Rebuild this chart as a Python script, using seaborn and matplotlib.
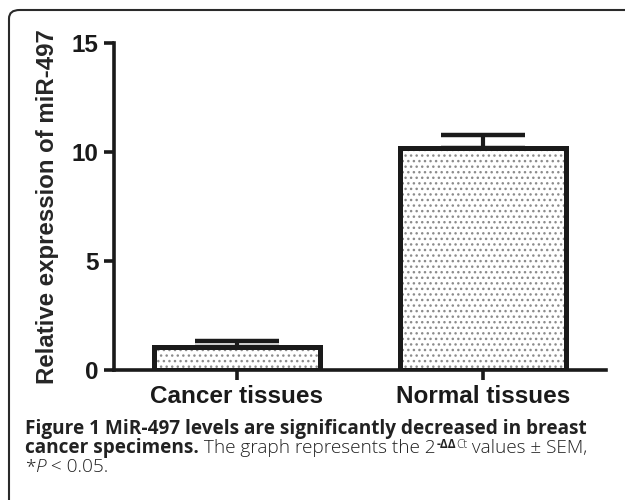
import matplotlib
matplotlib.use("Agg")
import matplotlib.pyplot as plt
from matplotlib.patches import FancyBboxPatch
import seaborn as sns
import pandas as pd

# valores (2^-ddCt, media y SEM)
grupos = ["Cancer tissues", "Normal tissues"]
media = [1.05, 10.2]
sem = [0.28, 0.6]
y_ticks = [0, 5, 10, 15]

df = pd.DataFrame({"grupo": grupos, "valor": media})

sns.set_style("ticks")
plt.rcParams["font.family"] = ["Liberation Sans", "DejaVu Sans"]
plt.rcParams["hatch.linewidth"] = 1.0

fig = plt.figure(figsize=(6.25, 5), dpi=100)
ax = fig.add_axes([0.1824, 0.26, 0.7872, 0.654])

# relleno punteado
sns.barplot(data=df, x="grupo", y="valor", color="white", width=0.675,
            edgecolor="#8c8c8c", linewidth=0, hatch="...", ax=ax)
# contorno negro
sns.barplot(data=df, x="grupo", y="valor", fill=False, width=0.675,
            edgecolor="#1a1a1a", linewidth=3.6, ax=ax)

ax.errorbar(grupos, media, yerr=[[0, 0], sem], fmt="none",
            ecolor="#1a1a1a", elinewidth=3, capsize=30, capthick=3.2, zorder=5)

ax.set_xlim(-0.5, 1.5)
ax.set_ylim(0, 15)
ax.set_yticks(y_ticks)
ax.set_xlabel("")
ax.set_ylabel("Relative expression of miR-497", fontsize=17.3,
              fontweight="bold", labelpad=9)
for lado in ["top", "right"]:
    ax.spines[lado].set_visible(False)
for lado in ["left", "bottom"]:
    ax.spines[lado].set_linewidth(2.6)
    ax.spines[lado].set_color("#1a1a1a")
ax.tick_params(axis="both", length=7, width=2.6, color="#1a1a1a",
               labelsize=17.5, pad=4)
for t in ax.get_xticklabels() + ax.get_yticklabels():
    t.set_fontweight("bold")
    t.set_color("#1a1a1a")

# marco redondeado de la figura
marco = FancyBboxPatch((9 / 625, -0.2), 1.2, 1.2 - 10 / 500,
                       boxstyle="round,pad=0,rounding_size=0.017",
                       transform=fig.transFigure, fill=False,
                       edgecolor="#2a2a2a", linewidth=1.5, clip_on=False)
fig.add_artist(marco)

# pie de figura, piezas encadenadas
renderer = fig.canvas.get_renderer()
cap_font = ["Open Sans", "DejaVu Sans"]


def texto(x_px, y_px, s, **kw):
    t = fig.text(x_px / 625, 1 - y_px / 500, s, family=cap_font,
                 va="baseline", ha="left", color="#222222", **kw)
    return x_px + t.get_window_extent(renderer).width


x = texto(25, 434, "Figure 1 MiR-497 levels are significantly decreased in breast",
          fontsize=13.7, fontweight="bold")
x = texto(25, 453, "cancer specimens.", fontsize=13.7, fontweight="bold")
x = texto(x, 453, " The graph represents the 2", fontsize=13.7, fontweight="light")
x = texto(x + 1, 448.5, "-ΔΔ", fontsize=8.5, fontweight="bold")
x = texto(x, 448.5, "Ct", fontsize=8.5, fontweight="light")
x = texto(x, 453, " values ± SEM,", fontsize=13.7, fontweight="light")
x = texto(25, 472, "*", fontsize=13.7, fontweight="light")
x = texto(x, 472, "P", fontsize=13.7, fontweight="light", style="italic")
x = texto(x, 472, " < 0.05.", fontsize=13.7, fontweight="light")

fig.savefig("out.png", dpi=100)
